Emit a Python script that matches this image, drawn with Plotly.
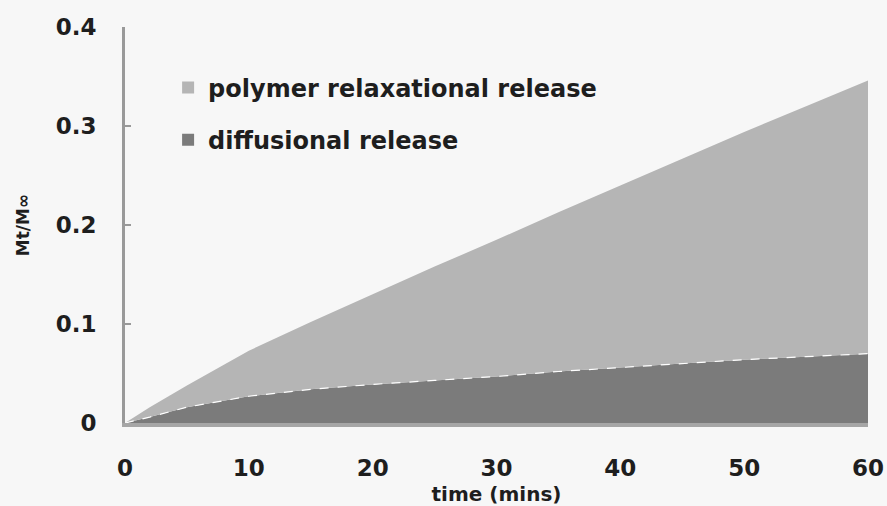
import plotly.graph_objects as go

time_min = [0, 2, 5, 10, 15, 20, 25, 30, 35, 40, 45, 50, 55, 60]
diffusional = [0, 0.006, 0.016, 0.027, 0.034, 0.039, 0.043, 0.047, 0.052, 0.056, 0.060, 0.064, 0.067, 0.070]
polymer = [0, 0.010, 0.022, 0.046, 0.068, 0.091, 0.115, 0.138, 0.161, 0.184, 0.207, 0.230, 0.253, 0.276]
series_names = ["diffusional release", "polymer relaxational release"]
x_ticks = [0, 10, 20, 30, 40, 50, 60]
y_ticks = [0, 0.1, 0.2, 0.3, 0.4]
y_tick_text = ["0", "0.1", "0.2", "0.3", "0.4"]

DARK = "#7b7b7b"
LIGHT = "#b5b5b5"
BG = "#f7f7f7"
FONT = "DejaVu Sans"
TXT = "#1e1e1e"

fig = go.Figure()
fig.add_trace(go.Scatter(x=time_min, y=diffusional, stackgroup="s", mode="none",
                         fillcolor=DARK, showlegend=False, name=series_names[0]))
fig.add_trace(go.Scatter(x=time_min, y=polymer, stackgroup="s", mode="none",
                         fillcolor=LIGHT, showlegend=False, name=series_names[1]))
# dashed boundary on top of the diffusional area
fig.add_trace(go.Scatter(x=time_min, y=diffusional, mode="lines",
                         line=dict(color="white", width=1.2, dash="dash"),
                         showlegend=False, hoverinfo="skip"))
# legend entries with square swatches
fig.add_trace(go.Scatter(x=[None], y=[None], mode="markers", name=series_names[1],
                         marker=dict(symbol="square", size=12, color=LIGHT), legendgroup="a"))
fig.add_trace(go.Scatter(x=[None], y=[None], mode="markers", name=series_names[0],
                         marker=dict(symbol="square", size=12, color=DARK), legendgroup="b"))

fig.update_layout(
    width=887, height=506,
    margin=dict(l=125, r=19, t=27, b=83),
    paper_bgcolor=BG, plot_bgcolor=BG,
    font=dict(family=FONT, color=TXT),
    showlegend=True,
    legend=dict(x=0.058, y=0.903, xanchor="left", yanchor="top",
                bgcolor="rgba(0,0,0,0)", tracegroupgap=18,
                font=dict(family=FONT, size=24, color=TXT, weight="bold"),
                itemwidth=30),
)
fig.update_xaxes(range=[0, 60], tickvals=x_ticks, ticks="", showgrid=False, zeroline=False,
                 automargin=False,
                 showline=True, linecolor="#a6a6a6", linewidth=4,
                 tickfont=dict(family=FONT, size=23, color=TXT, weight="bold"),
                 ticklabelstandoff=21,
                 title=dict(text="time (mins)", standoff=9,
                            font=dict(family=FONT, size=20, color=TXT, weight="bold")))
fig.update_yaxes(range=[0, 0.4], tickvals=y_ticks, ticktext=y_tick_text, ticks="inside",
                 automargin=False,
                 ticklen=6, tickcolor="#999999", tickwidth=2, showgrid=False, zeroline=False,
                 showline=True, linecolor="#999999", linewidth=3,
                 tickfont=dict(family=FONT, size=23, color=TXT, weight="bold"),
                 ticklabelstandoff=21,
                 title=dict(text="Mt/M∞", standoff=22,
                            font=dict(family=FONT, size=17, color=TXT, weight="bold")))

fig.write_html("out.html", config={"displayModeBar": False},
               post_script="document.body.style.margin='0';document.body.style.overflow='hidden';")
